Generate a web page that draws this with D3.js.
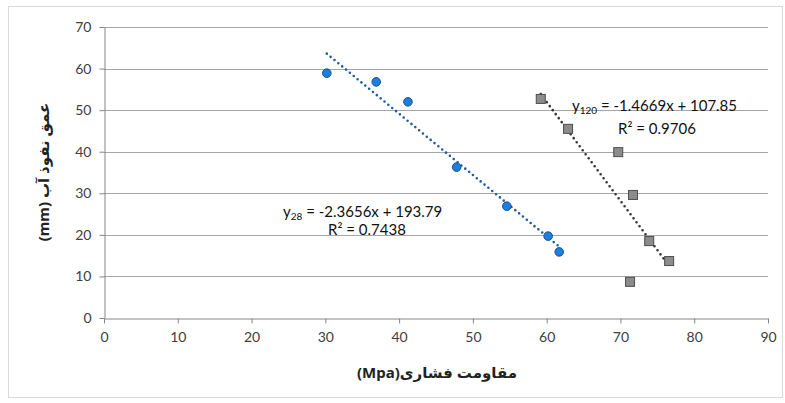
<!DOCTYPE html>
<html>
<head>
<meta charset="utf-8">
<script src="https://cdn.jsdelivr.net/npm/d3@7"></script>
<style>
  body { margin: 0; background: #fff; }
  svg text { font-family: Lato, "Open Sans", sans-serif; fill: #404040; }
  .axis path, .axis line { stroke: #868686; }
  .grid line { stroke: #a6a6a6; }
</style>
</head>
<body>
<div id="chart"></div>
<script>
const xTicks = [0, 10, 20, 30, 40, 50, 60, 70, 80, 90];
const yTicks = [0, 10, 20, 30, 40, 50, 60, 70];

// 28-day samples
const x28 = [30.2, 36.9, 41.2, 47.8, 54.6, 60.2, 61.7];
const y28 = [58.9, 56.8, 52.0, 36.3, 26.9, 19.7, 15.9];

// 120-day samples
const x120 = [59.2, 62.9, 69.7, 71.7, 73.9, 76.6, 71.3];
const y120 = [52.7, 45.5, 39.9, 29.6, 18.5, 13.7, 8.7];

const eqLabels = [
  { sub: '28', eq: ' = -2.3656x + 193.79', r2: '0.7438' },
  { sub: '120', eq: ' = -1.4669x + 107.85', r2: '0.9706' }
];

const width = 785;
const height = 403;
const margin = { top: 27, right: 17, bottom: 85, left: 104 };

const svg = d3
  .select('#chart')
  .append('svg')
  .attr('width', width)
  .attr('height', height);

svg
  .append('rect')
  .attr('x', 8.5)
  .attr('y', 6.5)
  .attr('width', 774)
  .attr('height', 391)
  .attr('fill', '#fff')
  .attr('stroke', '#d9d9d9');

const x = d3.scaleLinear().domain([0, 90]).range([margin.left, width - margin.right]);
const y = d3.scaleLinear().domain([0, 70]).range([height - margin.bottom, margin.top]);

svg
  .append('g')
  .attr('class', 'grid')
  .selectAll('line')
  .data(yTicks.filter(d => d > 0))
  .join('line')
  .attr('x1', x(0))
  .attr('x2', x(90))
  .attr('y1', d => Math.round(y(d)) + 0.5)
  .attr('y2', d => Math.round(y(d)) + 0.5);

svg
  .append('g')
  .attr('class', 'axis')
  .attr('transform', `translate(0, ${Math.round(y(0)) + 0.5})`)
  .call(d3.axisBottom(x).tickValues(xTicks).tickSize(5).tickSizeOuter(0).tickPadding(9))
  .call(g => g.selectAll('text').attr('font-size', 14).style('font-family', 'Lato, sans-serif'));

svg
  .append('g')
  .attr('class', 'axis')
  .attr('transform', `translate(${Math.round(x(0)) + 0.5}, 0)`)
  .call(d3.axisLeft(y).tickValues(yTicks).tickSize(5).tickSizeOuter(0).tickPadding(8))
  .call(g => g.selectAll('text').attr('font-size', 14).style('font-family', 'Lato, sans-serif'));

svg.selectAll('.axis .domain').attr('stroke', '#868686');

// least squares trendline over the x extent
function fit(xs, ys) {
  const mx = d3.mean(xs);
  const my = d3.mean(ys);
  const sxy = d3.sum(xs, (v, i) => (v - mx) * (ys[i] - my));
  const sxx = d3.sum(xs, v => (v - mx) ** 2);
  const b = sxy / sxx;
  const a = my - b * mx;
  const [lo, hi] = d3.extent(xs);
  return [
    [lo, a + b * lo],
    [hi, a + b * hi]
  ];
}

const line = d3.line(d => x(d[0]), d => y(d[1]));

svg
  .append('path')
  .attr('d', line(fit(x28, y28)))
  .attr('stroke', '#1f5d9c')
  .attr('stroke-width', 2.6)
  .attr('stroke-linecap', 'round')
  .attr('stroke-dasharray', '0 5')
  .attr('fill', 'none');

svg
  .append('path')
  .attr('d', line(fit(x120, y120)))
  .attr('stroke', '#333')
  .attr('stroke-width', 2.6)
  .attr('stroke-linecap', 'round')
  .attr('stroke-dasharray', '0 5')
  .attr('fill', 'none');

svg
  .append('g')
  .selectAll('circle')
  .data(x28.map((v, i) => [v, y28[i]]))
  .join('circle')
  .attr('cx', d => x(d[0]))
  .attr('cy', d => y(d[1]))
  .attr('r', 4.3)
  .attr('fill', '#1a7fe0')
  .attr('stroke', '#1f4f8a')
  .attr('stroke-width', 1);

svg
  .append('g')
  .selectAll('rect')
  .data(x120.map((v, i) => [v, y120[i]]))
  .join('rect')
  .attr('x', d => x(d[0]) - 4.5)
  .attr('y', d => y(d[1]) - 4.5)
  .attr('width', 9)
  .attr('height', 9)
  .attr('fill', '#8c8c8c')
  .attr('stroke', '#4d4d4d')
  .attr('stroke-width', 1);

// equation labels
const eqPos = [
  { x: 283, y: 217, rx: 328, ry: 235 },
  { x: 572, y: 111, rx: 618, ry: 134 }
];

eqLabels.forEach((d, i) => {
  const p = eqPos[i];
  const t = svg
    .append('text')
    .attr('x', p.x)
    .attr('y', p.y)
    .attr('font-size', 15)
    .style('fill', '#111');
  t.append('tspan').text('y');
  t.append('tspan').attr('font-size', 10).attr('dy', 3).text(d.sub);
  t.append('tspan').attr('dy', -3).text(d.eq);
  svg
    .append('text')
    .attr('x', p.rx)
    .attr('y', p.ry)
    .attr('font-size', 15)
    .style('fill', '#111')
    .text(`R² = ${d.r2}`);
});

svg
  .append('text')
  .attr('x', 437)
  .attr('y', 378)
  .attr('text-anchor', 'middle')
  .attr('direction', 'rtl')
  .attr('font-size', 15)
  .attr('font-weight', 'bold')
  .style('font-family', '"Noto Sans", "DejaVu Sans", sans-serif')
  .style('fill', '#222')
  .text('مقاومت فشاری(Mpa)');

svg
  .append('text')
  .attr('transform', 'translate(49, 172) rotate(-90)')
  .attr('text-anchor', 'middle')
  .attr('direction', 'rtl')
  .attr('font-size', 15)
  .attr('font-weight', 'bold')
  .style('font-family', '"Noto Sans", "DejaVu Sans", sans-serif')
  .style('fill', '#222')
  .text('عمق نفوذ آب (mm)');
</script>
</body>
</html>
